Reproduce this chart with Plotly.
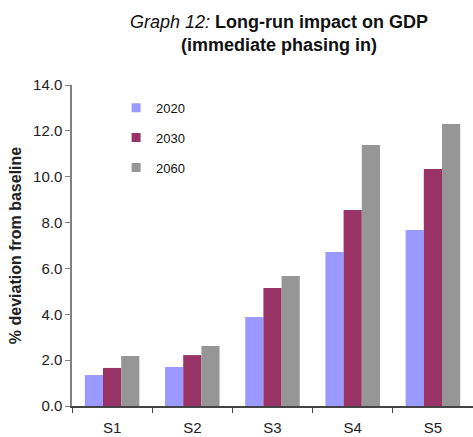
import plotly.graph_objects as go

scenarios = ["S1", "S2", "S3", "S4", "S5"]
years = ["2020", "2030", "2060"]
gdp_2020 = [1.35, 1.70, 3.88, 6.72, 7.68]
gdp_2030 = [1.66, 2.22, 5.15, 8.55, 10.34]
gdp_2060 = [2.18, 2.62, 5.67, 11.38, 12.30]
colors = ["#9999FF", "#993366", "#969696"]
y_ticks = [0, 2, 4, 6, 8, 10, 12, 14]

FONT = "Liberation Sans, Arial, sans-serif"
series = [gdp_2020, gdp_2030, gdp_2060]

fig = go.Figure()
for name, vals, col in zip(years, series, colors):
    fig.add_trace(go.Bar(x=scenarios, y=vals, name=name, marker_color=col,
                         marker_line_width=0, showlegend=False))
# small square legend keys
for name, col in zip(years, colors):
    fig.add_trace(go.Scatter(x=[None], y=[None], mode="markers", name=name,
                             legendgroup=name,
                             marker=dict(symbol="square", size=9, color=col)))

fig.update_layout(
    width=473, height=437,
    margin=dict(l=72, r=0, t=85, b=31),
    paper_bgcolor="white", plot_bgcolor="white",
    font=dict(family=FONT, size=15, color="#222222"),
    barmode="group", bargap=0.32, bargroupgap=0,
    title=dict(
        text="<i><span style='font-weight:normal'>Graph 12:</span></i><b> Long-run impact on GDP</b><br><b>(immediate phasing in)</b>",
        x=0.59, xanchor="center", xref="container",
        y=0.937, yanchor="top", yref="container",
        font=dict(family=FONT, size=18, color="#111111"),
    ),
    legend=dict(x=0.11, y=0.976, xanchor="left", yanchor="top",
                font=dict(size=13, color="#111111"),
                bgcolor="rgba(0,0,0,0)", tracegroupgap=10,
                traceorder="grouped", itemwidth=30),
    showlegend=True,
)
fig.update_xaxes(
    showline=True, linecolor="#444444", linewidth=1.5,
    ticks="outside", tickson="boundaries", ticklen=5, tickcolor="#444444",
    tickfont=dict(size=15), showgrid=False, ticklabelstandoff=7,
)
fig.update_yaxes(
    range=[0, 14], tickvals=y_ticks, tickformat=".1f",
    showline=True, linecolor="#808080", linewidth=1.5,
    ticks="outside", ticklen=5, tickcolor="#808080",
    tickfont=dict(size=15), showgrid=False, zeroline=False,
    title=dict(text="<b>% deviation from baseline</b>", font=dict(size=16), standoff=7),
)

fig.write_html("out.html")
